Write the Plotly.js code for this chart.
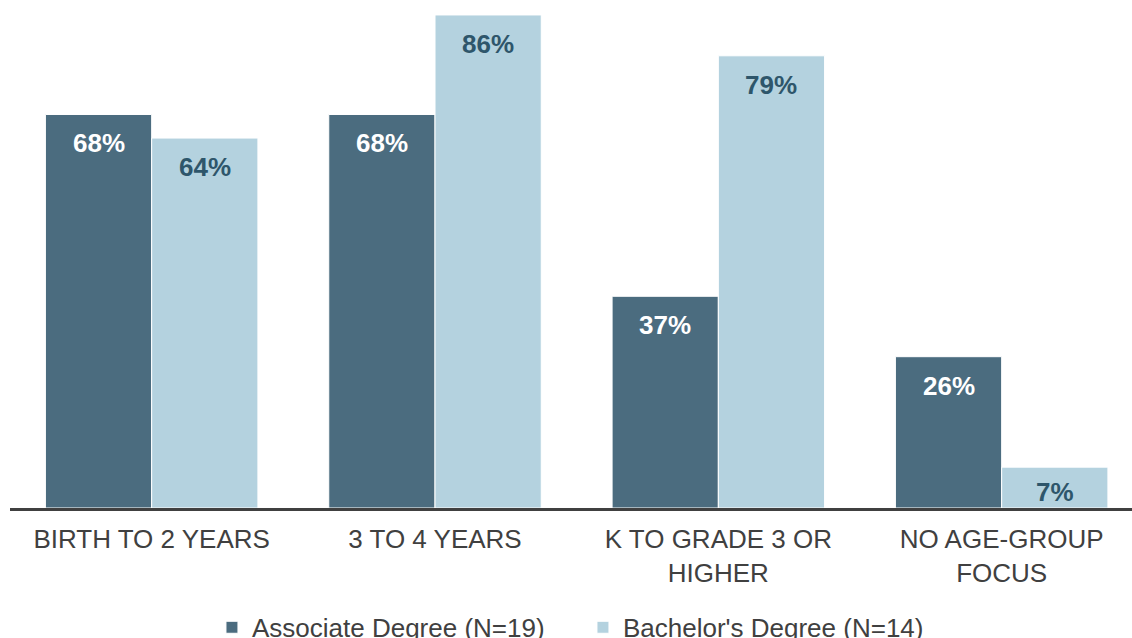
<!DOCTYPE html>
<html>
<head>
<meta charset="utf-8">
<script src="https://cdn.plot.ly/plotly-3.0.1.min.js"></script>
<style>html,body{margin:0;padding:0;background:#fff;}#chart{width:1132px;height:638px;}</style>
</head>
<body>
<div id="chart"></div>
<script>
const categories = ["BIRTH TO 2 YEARS", "3 TO 4 YEARS", "K TO GRADE 3 OR<br>HIGHER", "NO AGE-GROUP<br>FOCUS"];
const associateValues = [68.4, 68.4, 36.8, 26.3];
const bachelorValues = [64.3, 85.7, 78.6, 7.1];
const seriesNames = ["Associate Degree (N=19)", "Bachelor's Degree (N=14)"];

const darkColor = "#4B6C7F";
const lightColor = "#B4D2DF";
const fontFamily = "Arial, 'Liberation Sans', sans-serif";

const traces = [
  {type: "bar", name: seriesNames[0], x: categories, y: associateValues,
   marker: {color: darkColor, line: {color: "#ffffff", width: 1}}, hoverinfo: "none"},
  {type: "bar", name: seriesNames[1], x: categories, y: bachelorValues,
   marker: {color: lightColor, line: {color: "#ffffff", width: 1}}, hoverinfo: "none"}
];

const annotations = [];
categories.forEach((c, i) => {
  annotations.push({x: c, y: associateValues[i], xref: "x", yref: "y", text: "<b>" + Math.round(associateValues[i]) + "%</b>",
    showarrow: false, yanchor: "top", yshift: -12, xshift: -53,
    font: {family: fontFamily, size: 26, color: "#ffffff"}});
  annotations.push({x: c, y: bachelorValues[i], xref: "x", yref: "y", text: "<b>" + Math.round(bachelorValues[i]) + "%</b>",
    showarrow: false, yanchor: "top", yshift: (bachelorValues[i] < 10 ? -8 : -12), xshift: 53,
    font: {family: fontFamily, size: 26, color: "#2E566B"}});
});

const layout = {
  width: 1132, height: 638,
  margin: {l: 10, r: 0, t: 0, b: 130, autoexpand: false},
  paper_bgcolor: "#ffffff", plot_bgcolor: "#ffffff",
  font: {family: fontFamily, color: "#404040", size: 26},
  barmode: "group", bargap: 0.25, bargroupgap: 0,
  showlegend: true,
  legend: {orientation: "h", x: 0.180, xanchor: "left", y: -0.235, yanchor: "middle",
    entrywidth: 326, entrywidthmode: "pixels",
    font: {family: fontFamily, size: 26, color: "#404040"}, itemwidth: 30, traceorder: "normal"},
  xaxis: {type: "category", range: [-0.5, 3.46], showline: true, linecolor: "#404040", linewidth: 3,
    automargin: false, ticks: "", ticklabelstandoff: 6, showgrid: false, zeroline: false,
    tickfont: {family: fontFamily, size: 26, color: "#404040"}},
  yaxis: {range: [0, 88.3], visible: false, showgrid: false, zeroline: false, automargin: false},
  annotations: annotations
};

Plotly.newPlot("chart", traces, layout, {staticPlot: true, displayModeBar: false});
</script>
</body>
</html>
